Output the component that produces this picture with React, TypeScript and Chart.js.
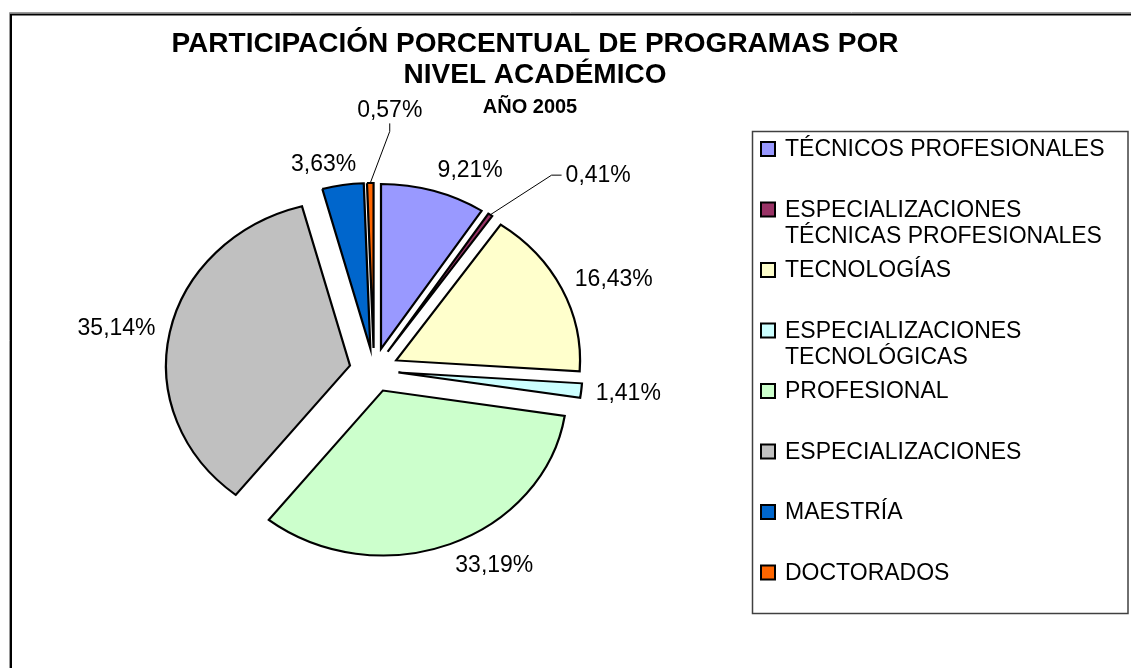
import React, { useEffect, useRef } from 'react';
import { Chart, registerables, ArcElement, PieController } from 'chart.js';

Chart.register(...registerables);

// ---------- data ----------
const categories = [
  'TÉCNICOS PROFESIONALES',
  'ESPECIALIZACIONES TÉCNICAS PROFESIONALES',
  'TECNOLOGÍAS',
  'ESPECIALIZACIONES TECNOLÓGICAS',
  'PROFESIONAL',
  'ESPECIALIZACIONES',
  'MAESTRÍA',
  'DOCTORADOS',
];
const shares = [9.21, 0.41, 16.43, 1.41, 33.19, 35.14, 3.63, 0.57];
const colors = ['#9999FF', '#993366', '#FFFFCC', '#CCFFFF', '#CCFFCC', '#C0C0C0', '#0066CC', '#FF6600'];
const titleLines = ['PARTICIPACIÓN PORCENTUAL DE PROGRAMAS POR', 'NIVEL ACADÉMICO'];
const subtitle = 'AÑO 2005';
// labels moved away with a leader line: angle (deg, clockwise from top) and distance from pie centre
const leaderLabels: Record<number, { angle: number; dist: number }> = {
  1: { angle: 45.9, dist: 280 },
  7: { angle: 3.1, dist: 261 },
};

// ---------- style ----------
const FONT = '"Liberation Sans", Arial, Helvetica, sans-serif';
const STRETCH = 1.115; // pie is drawn as a slightly wide ellipse
const EXPLODE = 22;
const RADIUS = 165;

const fmt = (v: number) => v.toFixed(2).replace('.', ',') + '%';

class ExplodedArc extends ArcElement {
  static id = 'explodedArc';
  draw(ctx: CanvasRenderingContext2D) {
    const self: any = this;
    const mid = (self.startAngle + self.endAngle) / 2;
    ctx.save();
    ctx.translate(self.x, 0);
    ctx.scale(STRETCH, 1);
    ctx.translate(-self.x, 0);
    ctx.translate(Math.cos(mid) * EXPLODE, Math.sin(mid) * EXPLODE);
    super.draw(ctx);
    ctx.restore();
  }
}

class ExplodedPie extends PieController {
  static id = 'explodedPie';
  static defaults = { ...(PieController as any).defaults, dataElementType: 'explodedArc' };
}

Chart.register(ExplodedArc as any, ExplodedPie as any);

function wrap(ctx: CanvasRenderingContext2D, text: string, maxW: number) {
  const words = text.split(' ');
  const lines: string[] = [];
  let cur = '';
  for (const w of words) {
    const t = cur ? cur + ' ' + w : w;
    if (cur && ctx.measureText(t).width > maxW) {
      lines.push(cur);
      cur = w;
    } else cur = t;
  }
  if (cur) lines.push(cur);
  return lines;
}

const decorPlugin = {
  id: 'decor',
  afterDraw(chart: any) {
    const ctx: CanvasRenderingContext2D = chart.ctx;
    ctx.save();
    // outer chart border (runs off the right/bottom)
    ctx.strokeStyle = '#9a9a9a';
    ctx.lineWidth = 1;
    ctx.beginPath();
    ctx.moveTo(9.5, 1200);
    ctx.lineTo(9.5, 12.5);
    ctx.lineTo(1200, 12.5);
    ctx.stroke();
    ctx.strokeStyle = '#000';
    ctx.lineWidth = 2;
    ctx.beginPath();
    ctx.moveTo(11, 1200);
    ctx.lineTo(11, 14.5);
    ctx.lineTo(1200, 14.5);
    ctx.stroke();

    // title
    ctx.fillStyle = '#000';
    ctx.textAlign = 'center';
    ctx.textBaseline = 'alphabetic';
    ctx.font = `bold 28px ${FONT}`;
    ctx.fillText(titleLines[0], 535, 52);
    ctx.fillText(titleLines[1], 535, 83);
    ctx.font = `bold 20px ${FONT}`;
    ctx.fillText(subtitle, 530, 113);

    // legend
    ctx.strokeStyle = '#404040';
    ctx.lineWidth = 1.5;
    ctx.strokeRect(752.5, 131.5, 375.5, 482);
    ctx.font = `23px ${FONT}`;
    ctx.textAlign = 'left';
    ctx.textBaseline = 'middle';
    const labels: string[] = chart.data.labels;
    const bg: string[] = chart.data.datasets[0].backgroundColor;
    labels.forEach((lab, i) => {
      const y0 = 149 + i * 60.5;
      ctx.fillStyle = bg[i];
      ctx.fillRect(761, y0 - 7, 14, 14);
      ctx.strokeStyle = '#000';
      ctx.lineWidth = 2;
      ctx.strokeRect(761, y0 - 7, 14, 14);
      ctx.fillStyle = '#000';
      wrap(ctx, lab, 338).forEach((ln, j) => ctx.fillText(ln, 785, y0 + 1 + j * 26.5));
    });

    // data labels
    const meta = chart.getDatasetMeta(0);
    ctx.font = `23px ${FONT}`;
    ctx.textAlign = 'center';
    ctx.textBaseline = 'middle';
    meta.data.forEach((arc: any, i: number) => {
      const { x, y, startAngle, endAngle, outerRadius } = arc;
      const mid = (startAngle + endAngle) / 2;
      const c = Math.cos(mid);
      const s = Math.sin(mid);
      const text = fmt(chart.data.datasets[0].data[i]);
      const w = ctx.measureText(text).width;
      const h = 18;
      let tx: number;
      let ty: number;
      const lead = leaderLabels[i];
      if (lead) {
        const a = ((lead.angle - 90) * Math.PI) / 180;
        tx = x + STRETCH * lead.dist * Math.cos(a);
        ty = y + lead.dist * Math.sin(a);
        const e = EXPLODE + outerRadius;
        const ex = x + STRETCH * e * c;
        const ey = y + e * s;
        ctx.strokeStyle = '#000';
        ctx.lineWidth = 1;
        ctx.beginPath();
        ctx.moveTo(ex, ey);
        if (Math.abs(tx - ex) > Math.abs(ty - ey)) {
          const left = tx - w / 2;
          ctx.lineTo(left - 14, ty);
          ctx.lineTo(left - 4, ty);
        } else {
          const bottom = ty + h / 2;
          ctx.lineTo(tx, bottom + 13);
          ctx.lineTo(tx, bottom + 5);
        }
        ctx.stroke();
      } else {
        const L = EXPLODE + outerRadius + 13;
        const px = x + STRETCH * L * c;
        const py = y + L * s;
        const k = Math.max(-1, Math.min(1, 3.5 * c));
        tx = px + (k * w) / 2;
        ty = py + (s * h) / 2;
      }
      ctx.fillStyle = '#000';
      ctx.fillText(text, tx, ty + 1);
    });
    ctx.restore();
  },
};

export default function App() {
  const ref = useRef<HTMLCanvasElement | null>(null);
  useEffect(() => {
    if (!ref.current) return;
    const chart = new Chart(ref.current, {
      type: 'explodedPie' as any,
      data: {
        labels: categories,
        datasets: [
          {
            data: shares,
            backgroundColor: colors,
            borderColor: '#000',
            borderWidth: 2,
            borderJoinStyle: 'miter',
            radius: RADIUS,
          } as any,
        ],
      },
      options: {
        responsive: false,
        animation: false,
        devicePixelRatio: 1,
        events: [],
        layout: { padding: { left: 174, right: 557, top: 170, bottom: 98 } },
        plugins: {
          legend: { display: false },
          tooltip: { enabled: false },
          title: { display: false },
        },
      } as any,
      plugins: [decorPlugin],
    });
    return () => chart.destroy();
  }, []);
  return (
    <div style={{ position: 'fixed', left: 0, top: 0, width: 1131, height: 668, background: '#fff' }}>
      <canvas ref={ref} width={1131} height={668} style={{ display: 'block', width: 1131, height: 668 }} />
    </div>
  );
}
